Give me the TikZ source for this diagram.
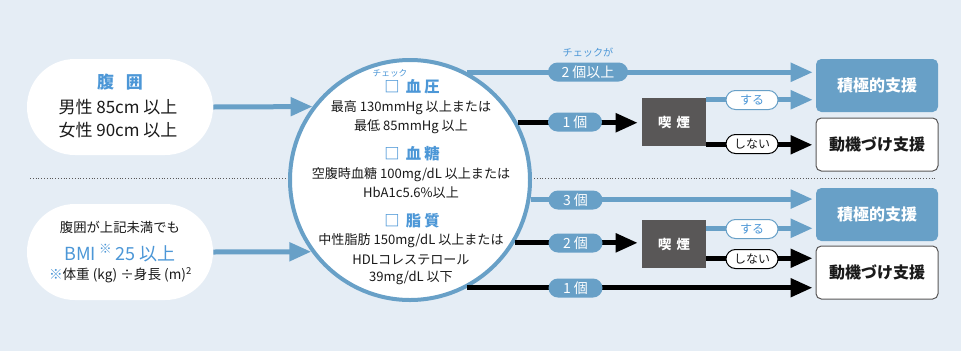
\documentclass[tikz,border=0pt]{standalone}
\usepackage{fontspec}
\setmainfont{Noto Sans CJK JP}
\usetikzlibrary{arrows.meta}
\definecolor{bgc}{HTML}{E5EDF5}
\definecolor{pblue}{HTML}{68A0C7}
\definecolor{tblue}{HTML}{4C97D7}
\definecolor{dgray}{HTML}{595757}
\definecolor{ink}{HTML}{1A1A1A}
\newcommand\myfs[1]{\fontsize{#1}{#1}\selectfont}
\tikzset{
  bigpill/.style={fill=white, minimum width=139.5pt, minimum height=72pt, rounded corners=35.9pt, inner sep=0pt},
  smallpill/.style={minimum height=14.25pt, rounded corners=7.1pt, inner sep=0pt, font=\myfs{10.5pt}},
  bluepill/.style={smallpill, fill=pblue, text=white},
  yespill/.style={smallpill, fill=white, draw=pblue, line width=0.75pt, text=tblue, minimum width=39pt, font=\myfs{9pt}},
  nopill/.style={smallpill, fill=white, draw=black, line width=0.75pt, text=ink, minimum width=39pt, font=\myfs{9pt}},
  smokebox/.style={fill=dgray, minimum width=48pt, minimum height=36pt, inner sep=0pt, text=white, font=\myfs{10pt}\bfseries},
  bluebox/.style={fill=pblue, rounded corners=4pt, minimum width=91.5pt, minimum height=39.75pt, inner sep=0pt, text=white, font=\myfs{12pt}\bfseries},
  whitebox/.style={fill=white, draw=dgray, line width=0.75pt, rounded corners=4pt, minimum width=91.5pt, minimum height=39.75pt, inner sep=0pt, text=ink, font=\myfs{12pt}\bfseries},
  bigtip/.style={-{Triangle[length=16.5pt,width=13.5pt]}},
  bluearr/.style={draw=pblue, line width=3.75pt, bigtip},
  blackarr/.style={draw=black, line width=3.75pt, bigtip},
  lbl/.style={inner sep=0pt, text=ink},
  body/.style={lbl, font=\myfs{9.8pt}},
  head/.style={lbl, text=tblue, font=\myfs{11.5pt}\bfseries},
}
\begin{document}
\begin{tikzpicture}[x=0.75pt,y=-0.75pt]
\fill[bgc] (0,0) rectangle (961,351);
\useasboundingbox (0,0) rectangle (961,351);

% dotted divider
\draw[dgray, line width=0.6pt, dash pattern=on 0.7pt off 1.4pt] (30,178) -- (937,178);

% left pills
\node[bigpill] (p1) at (120,107) {};
\node[lbl, text=tblue, font=\myfs{12.75pt}\bfseries] (p1a) at (120,82) {腹\hspace{0.7em}囲};
\node[lbl, font=\myfs{12.75pt}] (p1b) at (118,107) {男性 85cm 以上};
\node[lbl, font=\myfs{12.75pt}] (p1c) at (118,130) {女性 90cm 以上};

\node[bigpill] (p2) at (120,252) {};
\node[lbl, font=\myfs{10pt}] (p2a) at (120,227) {腹囲が上記未満でも};
\node[lbl, text=tblue, font=\myfs{13.5pt}] (p2b) at (120,253) {BMI\,\textsuperscript{※}\,25 以上};
\node[lbl, font=\myfs{10.2pt}] (p2c) at (120.5,275) {\textcolor{tblue}{※}体重 (kg) ÷身長 (m)\textsuperscript{2}};

% circle
\node[circle, draw=pblue, line width=3pt, fill=white, minimum size=180pt, inner sep=0pt] (c) at (410,180) {};
\node[lbl, text=tblue, font=\myfs{6.5pt}] (ck) at (390,73) {チェック};
\node[head] (h1) at (412,87) {□\hspace{0.4em}血\hspace{0.2em}圧};
\node[body] (t1) at (411,108) {最高 130mmHg 以上または};
\node[body] (t2) at (411,127) {最低 85mmHg 以上};
\node[head] (h2) at (412,154) {□\hspace{0.4em}血\hspace{0.2em}糖};
\node[body] (t3) at (411,175) {空腹時血糖 100mg/dL 以上または};
\node[body] (t4) at (411,193) {HbA1c5.6\%以上};
\node[head] (h3) at (412,221) {□\hspace{0.4em}脂\hspace{0.2em}質};
\node[body] (t5) at (411,241) {中性脂肪 150mg/dL 以上または};
\node[body] (t6) at (411,260) {HDLコレステロール};
\node[body] (t7) at (411,278) {39mg/dL 以下};

% arrows into circle
\draw[bluearr] (p1.east) -- (c.143.2);
\draw[bluearr] (p2.east) -- (c.216.2);

% result boxes
\node[bluebox] (s1) at (877,85.5) {積極的支援};
\node[whitebox] (m1) at (877,144.5) {動機づけ支援};
\node[bluebox] (s2) at (877,214.5) {積極的支援};
\node[whitebox] (m2) at (877,272.5) {動機づけ支援};

% smoking boxes
\node[smokebox] (k1) at (674,122) {喫\hspace{0.4em}煙};
\node[smokebox] (k2) at (674,244) {喫\hspace{0.4em}煙};

% upper group
\draw[bluearr, shorten >=2.25pt] (c.62.3) -- (c.62.3 -| s1.west);
\draw[blackarr, shorten >=3pt] (c.28.4) -- (c.28.4 -| k1.west);
\coordinate (k1a) at ([yshift=-1.5pt]k1.north east);
\coordinate (k1b) at ([yshift=1.1pt]k1.south east);
\draw[bluearr, shorten >=2.25pt] (k1a) -- (k1a -| s1.west);
\draw[blackarr, shorten >=2.25pt] (k1b) -- (k1b -| m1.west);

% lower group
\draw[bluearr, shorten >=2.25pt] (c.-9.4) -- (c.-9.4 -| s2.west);
\draw[blackarr, shorten >=3pt] (c.-31.1) -- (c.-31.1 -| k2.west);
\draw[blackarr, shorten >=2.25pt] (c.-62.3) -- (c.-62.3 -| m2.west);
\coordinate (k2a) at ([yshift=-6.4pt]k2.north east);
\coordinate (k2b) at ([yshift=7.5pt]k2.south east);
\draw[bluearr, shorten >=2.25pt] (k2a) -- (k2a -| s2.west);
\draw[blackarr, shorten >=2.25pt] (k2b) -- (k2b -| m2.west);

% labels on lines
\node[lbl, text=tblue, font=\myfs{7.6pt}] (ckg) at (588,53) {チェックが};
\node[bluepill, minimum width=60pt] (n2) at (588,72) {2 個以上};
\node[bluepill, minimum width=40.5pt] (n1a) at (575,122) {1 個};
\node[yespill] (y1) at (752,100) {する};
\node[nopill] (no1) at (752,144) {しない};
\node[bluepill, minimum width=40.5pt] (n3) at (575.5,200) {3 個};
\node[bluepill, minimum width=40.5pt] (n2b) at (575.5,243) {2 個};
\node[bluepill, minimum width=40.5pt] (n1b) at (575.5,288) {1 個};
\node[yespill] (y2) at (752,229) {する};
\node[nopill] (no2) at (752,259) {しない};
\end{tikzpicture}
\end{document}
